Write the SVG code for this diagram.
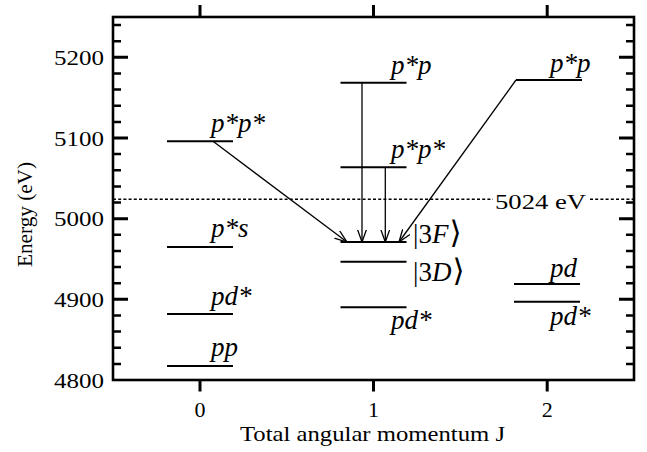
<svg xmlns="http://www.w3.org/2000/svg" width="647" height="452" viewBox="0 0 647 452">
<style>
.num{font-family:'Liberation Serif','Times New Roman',Times,'Noto Serif','DejaVu Serif',serif;font-size:22px;fill:#000}
.lab{font-family:'Liberation Serif','Times New Roman',Times,'Noto Serif','DejaVu Serif',serif;font-size:27px;font-style:italic;fill:#000}
.up{font-style:normal}
.br{font-style:normal;font-size:31px;font-family:'DejaVu Serif',serif}
.lvl{stroke:#000;stroke-width:2;fill:none}
.arr{stroke:#000;stroke-width:1.3;fill:none;marker-end:url(#ah)}
</style>
<defs>
<marker id="ah" viewBox="0 0 13 10" refX="12.5" refY="5" markerWidth="13" markerHeight="10" markerUnits="userSpaceOnUse" orient="auto">
<path d="M0,0.5 L12.5,5 L0,9.5" fill="none" stroke="#000" stroke-width="1.3"/>
</marker>
</defs>
<rect width="647" height="452" fill="#fff"/>
<g id="axes">
<rect x="113" y="17" width="521" height="363" fill="none" stroke="#000" stroke-width="2.6"/>
<path d="M113,299.3h15M113,218.7h15M113,138h15M113,57.3h15M634,299.3h-15M634,218.7h-15M634,138h-15M634,57.3h-15M200,380v11.5M373.5,380v11.5M547.2,380v11.5M200,17v-12M373.5,17v-12M547.2,17v-12" stroke="#000" stroke-width="3" fill="none"/>
<path d="M113,363.9h8M113,347.7h8M113,331.6h8M113,315.5h8M113,283.2h8M113,267.1h8M113,250.9h8M113,234.8h8M113,202.5h8M113,186.4h8M113,170.3h8M113,154.1h8M113,121.9h8M113,105.7h8M113,89.6h8M113,73.5h8M113,41.2h8M113,25.1h8M634,363.9h-8M634,347.7h-8M634,331.6h-8M634,315.5h-8M634,283.2h-8M634,267.1h-8M634,250.9h-8M634,234.8h-8M634,202.5h-8M634,186.4h-8M634,170.3h-8M634,154.1h-8M634,121.9h-8M634,105.7h-8M634,89.6h-8M634,73.5h-8M634,41.2h-8M634,25.1h-8" stroke="#000" stroke-width="2.5" fill="none"/>
<text class="num" x="104" y="64.8" text-anchor="end" textLength="50" lengthAdjust="spacingAndGlyphs">5200</text>
<text class="num" x="104" y="145.5" text-anchor="end" textLength="50" lengthAdjust="spacingAndGlyphs">5100</text>
<text class="num" x="104" y="226" text-anchor="end" textLength="50" lengthAdjust="spacingAndGlyphs">5000</text>
<text class="num" x="104" y="306.8" text-anchor="end" textLength="50" lengthAdjust="spacingAndGlyphs">4900</text>
<text class="num" x="104" y="387.5" text-anchor="end" textLength="50" lengthAdjust="spacingAndGlyphs">4800</text>
<text class="num" x="200" y="417" text-anchor="middle">0</text>
<text class="num" x="373.5" y="417" text-anchor="middle">1</text>
<text class="num" x="547.2" y="417" text-anchor="middle">2</text>
<text class="num" x="240" y="441" textLength="265" lengthAdjust="spacingAndGlyphs">Total angular momentum J</text>
<text class="num" transform="translate(32,267) rotate(-90)" textLength="105" lengthAdjust="spacingAndGlyphs">Energy (eV)</text>
</g>
<g id="threshold">
<path d="M113,199.3H493M590,199.3H634" stroke="#000" stroke-width="1.5" stroke-dasharray="3,2.2" fill="none"/>
<text class="num" x="495" y="208.5" textLength="91" lengthAdjust="spacingAndGlyphs">5024 eV</text>
</g>
<g id="J0-pspsstar"><path class="lvl" d="M167,141.3H233"/><text class="lab" x="211" y="132">p*p*</text></g>
<g id="J0-pss"><path class="lvl" d="M167,247H233"/><text class="lab" x="211" y="237">p*s</text></g>
<g id="J0-pdstar"><path class="lvl" d="M167,314H233"/><text class="lab" x="211" y="304.5">pd*</text></g>
<g id="J0-pp"><path class="lvl" d="M167,366H233"/><text class="lab" x="211" y="356">pp</text></g>
<g id="J1-psp"><path class="lvl" d="M340.5,82.7H406.5"/><text class="lab" x="391" y="74">p*p</text></g>
<g id="J1-pspstar"><path class="lvl" d="M340.5,167.3H406.5"/><text class="lab" x="391" y="158">p*p*</text></g>
<g id="J1-3F"><path class="lvl" d="M340.5,242H406.5"/><text class="lab" x="413" y="243"><tspan class="up">|3</tspan>F<tspan class="br" dx="1">⟩</tspan></text></g>
<g id="J1-3D"><path class="lvl" d="M340.5,261.7H406.5"/><text class="lab" x="413" y="281"><tspan class="up">|3</tspan>D<tspan class="br" dx="1">⟩</tspan></text></g>
<g id="J1-pdstar"><path class="lvl" d="M340.5,307.3H406.5"/><text class="lab" x="391" y="329">pd*</text></g>
<g id="J2-psp"><path class="lvl" d="M516,80H582"/><text class="lab" x="550" y="72">p*p</text></g>
<g id="J2-pd"><path class="lvl" d="M514,284H580"/><text class="lab" x="550" y="276.5">pd</text></g>
<g id="J2-pdstar"><path class="lvl" d="M514,301.7H580"/><text class="lab" x="550" y="325">pd*</text></g>
<g id="connectors">
<path class="arr" d="M213,141.3L347,242"/>
<path class="arr" d="M362,82.7V242"/>
<path class="arr" d="M385.3,167.3V242"/>
<path class="arr" d="M516,80L399,242"/>
</g>
</svg>
